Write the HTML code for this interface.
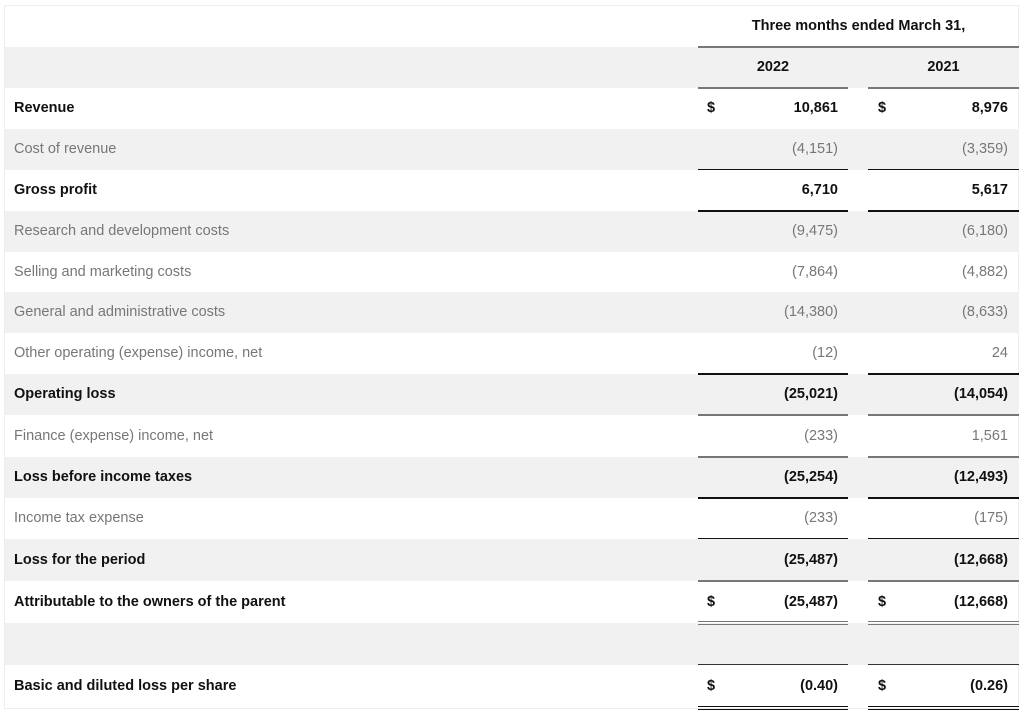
<!DOCTYPE html>
<html><head><style>
body{margin:0;width:1024px;height:720px;background:#fff;font-family:"Liberation Sans",sans-serif;font-size:14.5px;position:relative;overflow:hidden}
.t{position:absolute;left:4px;top:5px;width:1015px;height:704px;border:1px solid #eee;box-sizing:border-box}
.r{position:absolute;left:5px;width:1014px}
.g{background:#f1f1f1}
.l{position:absolute;left:9px;top:0;line-height:inherit}
.b{font-weight:bold;color:#111}
.n{color:#777}
.d{position:absolute;font-weight:bold;color:#111}
.v{position:absolute;text-align:right}
</style></head><body>
<div class="t"></div>
<div id="c"></div>
<script>
var rows=[
[5,47,"",0,0,"","",0],
[47,88,"",1,0,"","",0],
[88,129,"Revenue",0,1,"10,861","8,976",1],
[129,170,"Cost of revenue",1,0,"(4,151)","(3,359)",0],
[170,211,"Gross profit",0,1,"6,710","5,617",0],
[211,252,"Research and development costs",1,0,"(9,475)","(6,180)",0],
[252,292,"Selling and marketing costs",0,0,"(7,864)","(4,882)",0],
[292,333,"General and administrative costs",1,0,"(14,380)","(8,633)",0],
[333,374,"Other operating (expense) income, net",0,0,"(12)","24",0],
[374,415,"Operating loss",1,1,"(25,021)","(14,054)",0],
[415,457,"Finance (expense) income, net",0,0,"(233)","1,561",0],
[457,498,"Loss before income taxes",1,1,"(25,254)","(12,493)",0],
[498,539,"Income tax expense",0,0,"(233)","(175)",0],
[539,581,"Loss for the period",1,1,"(25,487)","(12,668)",0],
[581,623,"Attributable to the owners of the parent",0,1,"(25,487)","(12,668)",1],
[623,665,"",1,0,"","",0],
[665,708,"Basic and diluted loss per share",0,1,"(0.40)","(0.26)",1]];
var h="";
rows.forEach(function(r){
 var ht=r[1]-r[0];
 h+='<div class="r'+(r[3]?' g':'')+'" style="top:'+r[0]+'px;height:'+ht+'px;line-height:'+ht+'px">';
 if(r[2])h+='<span class="l '+(r[4]?'b':'n')+'">'+r[2]+'</span>';
 var cls=r[4]?'b':'n';
 if(r[5])h+='<span class="v '+cls+'" style="right:181px">'+r[5]+'</span><span class="v '+cls+'" style="right:11px">'+r[6]+'</span>';
 if(r[7])h+='<span class="d" style="left:702px">$</span><span class="d" style="left:873px">$</span>';
 h+='</div>';
});
h+='<div class="d" style="left:698px;width:321px;top:5px;height:42px;line-height:42px;text-align:center">Three months ended March 31,</div>';
h+='<div class="d" style="left:698px;width:150px;top:47px;height:41px;line-height:41px;text-align:center">2022</div>';
h+='<div class="d" style="left:868px;width:151px;top:47px;height:41px;line-height:41px;text-align:center">2021</div>';
h+='<div style="position:absolute;left:698px;width:321px;top:46px;border-top:2px solid #777"></div>';
function line(y,st){h+='<div style="position:absolute;left:698px;width:150px;top:'+y+'px;border-top:'+st+'"></div><div style="position:absolute;left:868px;width:151px;top:'+y+'px;border-top:'+st+'"></div>';}
line(87,"2px solid #777");
line(169,"1px solid #111");
line(210,"2px solid #111");
line(373,"2px solid #111");
line(414,"2px solid #777");
line(456,"2px solid #777");
line(497,"2px solid #111");
line(538,"1px solid #111");
line(580,"2px solid #777");
line(621,"4px double #777");
line(664,"1px solid #333");
line(706,"4px double #111");
document.getElementById("c").innerHTML=h;
</script>
</body></html>
